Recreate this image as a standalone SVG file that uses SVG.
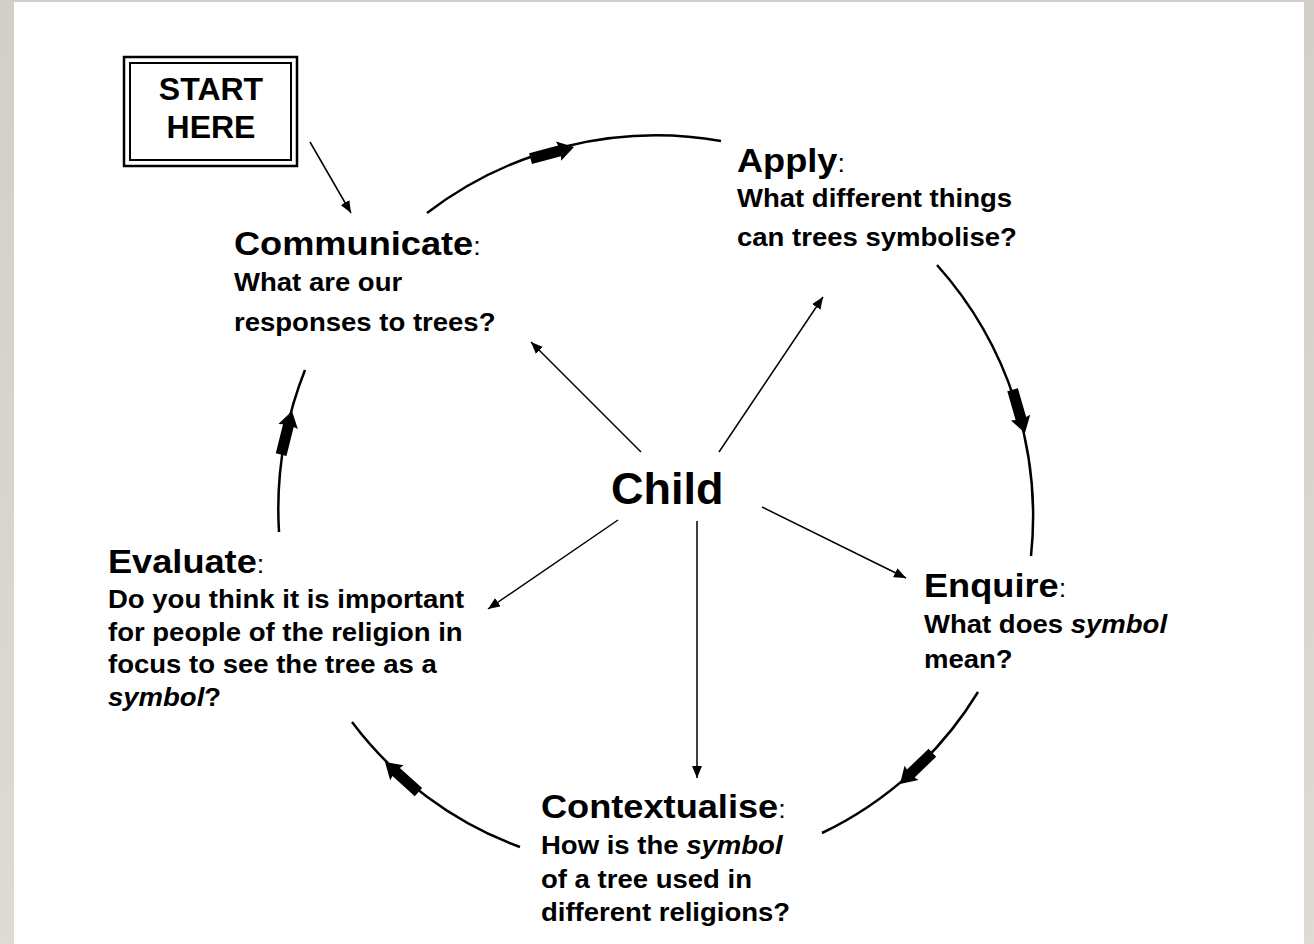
<svg xmlns="http://www.w3.org/2000/svg" xmlns:xlink="http://www.w3.org/1999/xlink" width="1314" height="944" viewBox="0 0 1314 944">
<defs>
<linearGradient id="bg" x1="0" y1="0" x2="0" y2="1">
<stop offset="0" stop-color="#d2cec8"/>
<stop offset="1" stop-color="#dedbd5"/>
</linearGradient>
<marker id="ah" markerUnits="userSpaceOnUse" markerWidth="12" markerHeight="10" refX="12" refY="5" orient="auto">
<path d="M0,0 L12,5 L0,10 Z" fill="#000"/>
</marker>
<path id="blk" d="M0,0 L-16,-10 L-15,-5.5 L-45,-5.5 L-45,5.5 L-15,5.5 L-16,10 Z" fill="#000"/>
<style>
.h{font-family:"Liberation Sans",Arial,sans-serif;font-weight:bold;font-size:33.5px;fill:#000}
.c{font-weight:normal;font-size:25px}
.s{font-family:"Liberation Sans",Arial,sans-serif;font-weight:bold;font-size:25.5px;fill:#000}
.i{font-style:italic}
.arc{fill:none;stroke:#000;stroke-width:2.5}
.sp{fill:none;stroke:#000;stroke-width:1.5;marker-end:url(#ah)}
</style>
</defs>
<rect x="0" y="0" width="1314" height="944" fill="url(#bg)"/>
<rect x="14" y="2" width="1290" height="942" fill="#fff"/>

<g id="start">
<rect x="124" y="57" width="173" height="109" fill="none" stroke="#000" stroke-width="2.5"/>
<rect x="130" y="63" width="161" height="97" fill="none" stroke="#000" stroke-width="2"/>
<text x="211" y="100" text-anchor="middle" style="font-family:'Liberation Sans',Arial,sans-serif;font-weight:bold;font-size:32px">START</text>
<text x="211" y="138" text-anchor="middle" style="font-family:'Liberation Sans',Arial,sans-serif;font-weight:bold;font-size:32px">HERE</text>
</g>

<g id="child">
<text x="611" y="504" style="font-family:'Liberation Sans',Arial,sans-serif;font-weight:bold;font-size:45px">Child</text>
</g>

<g id="communicate" transform="matrix(1.08 0 0 1 -18.72 0)">
<text class="h" x="234" y="255">Communicate<tspan class="c">:</tspan></text>
<text class="s" x="234" y="291">What are our</text>
<text class="s" x="234" y="331">responses to trees?</text>
</g>

<g id="apply" transform="matrix(1.08 0 0 1 -58.96 0)">
<text class="h" x="737" y="172">Apply<tspan class="c">:</tspan></text>
<text class="s" x="737" y="207">What different things</text>
<text class="s" x="737" y="246">can trees symbolise?</text>
</g>

<g id="evaluate" transform="matrix(1.08 0 0 1 -8.64 0)">
<text class="h" x="108" y="573">Evaluate<tspan class="c">:</tspan></text>
<text class="s" x="108" y="608">Do you think it is important</text>
<text class="s" x="108" y="641">for people of the religion in</text>
<text class="s" x="108" y="673">focus to see the tree as a</text>
<text class="s" x="108" y="706"><tspan class="i">symbol</tspan>?</text>
</g>

<g id="enquire" transform="matrix(1.08 0 0 1 -73.92 0)">
<text class="h" x="924" y="597">Enquire<tspan class="c">:</tspan></text>
<text class="s" x="924" y="633">What does <tspan class="i">symbol</tspan></text>
<text class="s" x="924" y="668">mean?</text>
</g>

<g id="contextualise" transform="matrix(1.08 0 0 1 -43.28 0)">
<text class="h" x="541" y="818">Contextualise<tspan class="c">:</tspan></text>
<text class="s" x="541" y="854">How is the <tspan class="i">symbol</tspan></text>
<text class="s" x="541" y="888">of a tree used in</text>
<text class="s" x="541" y="921">different religions?</text>
</g>

<g id="connectors">
<path class="arc" d="M427,213 A377,377 0 0 1 721,141"/>
<path class="arc" d="M937,265 A377,377 0 0 1 1031,556"/>
<path class="arc" d="M978,692 A370,370 0 0 1 822,833"/>
<path class="arc" d="M520,847 A370,370 0 0 1 352,722"/>
<path class="arc" d="M279,532 A377,377 0 0 1 305,370"/>
<use xlink:href="#blk" transform="translate(574,147) rotate(-15)"/>
<use xlink:href="#blk" transform="translate(1025,433) rotate(74)"/>
<use xlink:href="#blk" transform="translate(900,784) rotate(136)"/>
<use xlink:href="#blk" transform="translate(385,762) rotate(222)"/>
<use xlink:href="#blk" transform="translate(292,411) rotate(-76)"/>
<path class="sp" d="M310,142 L351,213"/>
<path class="sp" d="M641,452 L531,342"/>
<path class="sp" d="M719,452 L823,297"/>
<path class="sp" d="M618,520 L488,609"/>
<path class="sp" d="M762,507 L906,578"/>
<path class="sp" d="M697,521 L697,778"/>
</g>
</svg>
